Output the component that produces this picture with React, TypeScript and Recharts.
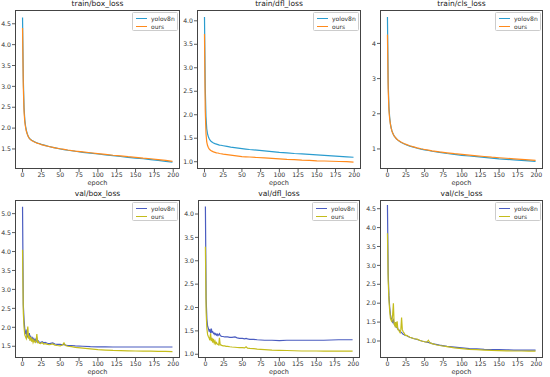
import { LineChart, Line, XAxis, YAxis } from 'recharts'

// epochs sampled for the training curves (smooth)
const trainEpochs = [0, 1, 2, 3, 4, 5, 6, 7, 8, 9, 10, 12, 14, 16, 18, 20, 22, 25, 30, 35, 40, 45, 50, 55, 60, 70, 80, 90, 100, 110, 120, 130, 140, 150, 160, 170, 180, 190, 199]

// epochs sampled for the validation curves (noisy early on)
const valEpochs = [0, 1, 2, 3, 4, 5, 6, 7, 8, 9, 10, 11, 12, 13, 14, 15, 16, 17, 18, 19, 20, 21, 22, 24, 26, 28, 30, 33, 36, 40, 43, 46, 50, 53, 55, 57, 60, 65, 70, 80, 90, 100, 110, 120, 130, 140, 150, 160, 170, 180, 190, 199]

const xTicks = [0, 25, 50, 75, 100, 125, 150, 175, 200]

const trainBoxYolo = [4.65, 3.2, 2.5, 2.2, 2.05, 1.95, 1.88, 1.83, 1.79, 1.76, 1.74, 1.71, 1.69, 1.67, 1.655, 1.64, 1.63, 1.61, 1.585, 1.56, 1.54, 1.52, 1.5, 1.485, 1.47, 1.445, 1.42, 1.4, 1.38, 1.36, 1.34, 1.32, 1.3, 1.28, 1.265, 1.245, 1.225, 1.205, 1.185]
const trainBoxOurs = [4.4, 3.0, 2.4, 2.15, 2.02, 1.93, 1.87, 1.82, 1.78, 1.755, 1.735, 1.705, 1.685, 1.665, 1.65, 1.635, 1.625, 1.605, 1.58, 1.56, 1.54, 1.52, 1.505, 1.49, 1.475, 1.45, 1.43, 1.41, 1.39, 1.37, 1.35, 1.335, 1.315, 1.3, 1.28, 1.265, 1.245, 1.225, 1.205]

const trainDflYolo = [4.08, 2.6, 1.95, 1.7, 1.6, 1.54, 1.5, 1.47, 1.45, 1.43, 1.42, 1.4, 1.385, 1.375, 1.365, 1.355, 1.35, 1.34, 1.325, 1.31, 1.3, 1.29, 1.28, 1.27, 1.26, 1.245, 1.23, 1.215, 1.2, 1.19, 1.175, 1.165, 1.155, 1.145, 1.135, 1.125, 1.115, 1.105, 1.095]
const trainDflOurs = [3.72, 2.1, 1.6, 1.42, 1.35, 1.31, 1.28, 1.26, 1.245, 1.235, 1.225, 1.21, 1.2, 1.19, 1.185, 1.175, 1.17, 1.16, 1.15, 1.14, 1.13, 1.12, 1.11, 1.105, 1.1, 1.09, 1.08, 1.07, 1.06, 1.05, 1.045, 1.035, 1.03, 1.02, 1.015, 1.01, 1.005, 1.0, 0.99]

const trainClsYolo = [4.75, 2.9, 2.2, 1.9, 1.72, 1.6, 1.52, 1.46, 1.41, 1.37, 1.34, 1.29, 1.25, 1.22, 1.19, 1.17, 1.15, 1.12, 1.08, 1.05, 1.02, 0.995, 0.975, 0.955, 0.935, 0.9, 0.87, 0.845, 0.82, 0.8, 0.78, 0.76, 0.74, 0.72, 0.705, 0.69, 0.675, 0.66, 0.645]
const trainClsOurs = [4.25, 2.7, 2.1, 1.85, 1.7, 1.59, 1.51, 1.45, 1.41, 1.37, 1.34, 1.29, 1.255, 1.225, 1.2, 1.175, 1.155, 1.13, 1.09, 1.06, 1.03, 1.005, 0.985, 0.965, 0.945, 0.915, 0.89, 0.865, 0.845, 0.825, 0.805, 0.785, 0.765, 0.75, 0.735, 0.72, 0.705, 0.69, 0.675]

const valBoxYolo = [5.18, 2.6, 2.2, 1.95, 1.85, 1.9, 1.75, 1.8, 1.72, 1.85, 1.7, 1.75, 1.68, 1.72, 1.66, 1.7, 1.64, 1.68, 1.63, 1.7, 1.62, 1.64, 1.61, 1.6, 1.62, 1.59, 1.6, 1.58, 1.57, 1.59, 1.56, 1.55, 1.55, 1.54, 1.55, 1.53, 1.52, 1.52, 1.51, 1.5, 1.49, 1.485, 1.485, 1.48, 1.48, 1.48, 1.48, 1.48, 1.48, 1.48, 1.48, 1.48]
const valBoxOurs = [4.05, 2.4, 2.0, 1.8, 1.75, 1.7, 1.8, 2.02, 1.7, 1.78, 1.65, 1.75, 1.62, 1.7, 1.6, 1.66, 1.62, 1.6, 1.65, 1.82, 1.6, 1.62, 1.58, 1.57, 1.6, 1.56, 1.57, 1.55, 1.54, 1.56, 1.53, 1.52, 1.51, 1.53, 1.59, 1.52, 1.5, 1.49, 1.47, 1.45, 1.43, 1.41, 1.4, 1.39, 1.385, 1.38, 1.375, 1.37, 1.37, 1.365, 1.365, 1.36]

const valDflYolo = [4.16, 2.2, 1.75, 1.6, 1.55, 1.5, 1.52, 1.45, 1.55, 1.47, 1.48, 1.44, 1.45, 1.42, 1.44, 1.41, 1.43, 1.4, 1.42, 1.44, 1.4, 1.39, 1.38, 1.38, 1.37, 1.37, 1.37, 1.36, 1.36, 1.37, 1.35, 1.34, 1.34, 1.33, 1.34, 1.33, 1.32, 1.32, 1.31, 1.3, 1.3, 1.29, 1.3, 1.3, 1.3, 1.3, 1.3, 1.3, 1.305, 1.31, 1.31, 1.31]
const valDflOurs = [3.3, 1.9, 1.55, 1.42, 1.38, 1.35, 1.3, 1.45, 1.28, 1.35, 1.25, 1.33, 1.24, 1.28, 1.22, 1.25, 1.22, 1.21, 1.2, 1.35, 1.2, 1.2, 1.19, 1.18, 1.18, 1.17, 1.17, 1.16, 1.155, 1.15, 1.145, 1.14, 1.14, 1.135, 1.16, 1.13, 1.125, 1.12, 1.11, 1.1, 1.09, 1.085, 1.08, 1.075, 1.07, 1.07, 1.07, 1.065, 1.065, 1.065, 1.065, 1.065]

const valClsYolo = [4.6, 2.8, 2.2, 1.9, 1.7, 1.6, 1.55, 1.5, 1.55, 1.45, 1.42, 1.4, 1.36, 1.38, 1.32, 1.3, 1.28, 1.25, 1.24, 1.22, 1.2, 1.18, 1.17, 1.15, 1.14, 1.12, 1.1, 1.08, 1.06, 1.04, 1.02, 1.0, 0.98, 0.97, 0.96, 0.95, 0.93, 0.91, 0.89, 0.86, 0.84, 0.82, 0.8, 0.79, 0.78, 0.775, 0.77, 0.765, 0.76, 0.76, 0.76, 0.76]
const valClsOurs = [3.85, 2.6, 2.1, 1.8, 1.6, 1.55, 1.5, 1.7, 2.0, 1.45, 1.4, 1.5, 1.35, 1.52, 1.3, 1.3, 1.25, 1.22, 1.3, 1.62, 1.3, 1.25, 1.22, 1.15, 1.15, 1.12, 1.1, 1.08, 1.06, 1.05, 1.02, 1.0, 0.98, 0.97, 1.02, 0.95, 0.93, 0.9, 0.88, 0.85, 0.82, 0.8, 0.78, 0.77, 0.76, 0.75, 0.745, 0.74, 0.735, 0.735, 0.73, 0.73]

const FONT = '"DejaVu Sans", sans-serif'
const YW = 19
const XH = 13

function rows(epochs: number[], a: number[], b: number[]) {
  return epochs.map((e, i) => ({ epoch: e, yolov8n: a[i], ours: b[i] }))
}

type Box = { x: number; y: number; w: number; h: number }

function Panel(props: {
  title: string
  box: Box
  data: any[]
  yDomain: [number, number]
  yTicks: number[]
  yFmt: (v: number) => string
  c1: string
  c2: string
}) {
  const { title, box, data, yDomain, yTicks, yFmt, c1, c2 } = props
  return (
    <>
      <div style={{ position: 'absolute', left: box.x, top: box.y - 11, width: box.w, textAlign: 'center', fontSize: 7.5, lineHeight: '10px', fontFamily: FONT, color: '#222' }}>
        {title}
      </div>
      <div style={{ position: 'absolute', left: box.x - YW, top: box.y }}>
        <LineChart width={YW + box.w} height={box.h + XH} data={data} margin={{ top: 0, right: 0, left: 0, bottom: 0 }}>
          <XAxis
            dataKey="epoch"
            type="number"
            domain={[-10, 209]}
            ticks={xTicks}
            height={XH}
            tickSize={3}
            tickMargin={1}
            axisLine={false}
            tickLine={{ stroke: '#333', strokeWidth: 0.8 }}
            tick={{ fontSize: 6.2, fill: '#333', fontFamily: FONT }}
            interval={0}
          />
          <YAxis
            type="number"
            domain={yDomain}
            ticks={yTicks}
            width={YW}
            tickSize={3}
            tickMargin={1}
            axisLine={false}
            allowDataOverflow
            tickFormatter={yFmt}
            tickLine={{ stroke: '#333', strokeWidth: 0.8 }}
            tick={{ fontSize: 6.2, fill: '#333', fontFamily: FONT }}
            interval={0}
          />
          <Line type="linear" dataKey="yolov8n" stroke={c1} strokeWidth={1.2} dot={false} isAnimationActive={false} />
          <Line type="linear" dataKey="ours" stroke={c2} strokeWidth={1.2} dot={false} isAnimationActive={false} />
        </LineChart>
      </div>
      <div style={{ position: 'absolute', left: box.x, top: box.y + box.h + 10, width: box.w, textAlign: 'center', fontSize: 6.5, lineHeight: '8px', fontFamily: FONT, color: '#333' }}>
        epoch
      </div>
      <div style={{ position: 'absolute', left: box.x, top: box.y, width: box.w, height: box.h, border: '0.8px solid #444', boxSizing: 'border-box', pointerEvents: 'none' }} />
      <div style={{ position: 'absolute', left: box.x + box.w - 48, top: box.y + 2, width: 46, height: 19, border: '0.6px solid #ccc', borderRadius: 1.5, background: 'rgba(255,255,255,0.8)', boxSizing: 'border-box', fontFamily: FONT, fontSize: 6, color: '#333' }}>
        {[['yolov8n', c1], ['ours', c2]].map(([name, col], i) => (
          <div key={name} style={{ position: 'absolute', left: 3, top: 2 + i * 8, height: 6, display: 'flex', alignItems: 'center' }}>
            <div style={{ width: 11, height: 1, background: col, marginRight: 4 }} />
            <span>{name}</span>
          </div>
        ))}
      </div>
    </>
  )
}

const f1 = (v: number) => v.toFixed(1)
const f0 = (v: number) => String(v)

export default function App() {
  const topA = '#2a9ccf'
  const topB = '#ff8a1c'
  const botA = '#4a5cc0'
  const botB = '#c4bc1c'
  return (
    <div style={{ position: 'absolute', left: 0, top: 0, width: 550, height: 377, background: '#fff', overflow: 'hidden' }}>
      <Panel title="train/box_loss" box={{ x: 15, y: 10, w: 165, h: 159 }} data={rows(trainEpochs, trainBoxYolo, trainBoxOurs)} yDomain={[1.02, 4.83]} yTicks={[1.5, 2, 2.5, 3, 3.5, 4, 4.5]} yFmt={f1} c1={topA} c2={topB} />
      <Panel title="train/dfl_loss" box={{ x: 197, y: 10, w: 164, h: 159 }} data={rows(trainEpochs, trainDflYolo, trainDflOurs)} yDomain={[0.845, 4.23]} yTicks={[1, 1.5, 2, 2.5, 3, 3.5, 4]} yFmt={f1} c1={topA} c2={topB} />
      <Panel title="train/cls_loss" box={{ x: 380, y: 10, w: 163, h: 159 }} data={rows(trainEpochs, trainClsYolo, trainClsOurs)} yDomain={[0.43, 4.95]} yTicks={[1, 2, 3, 4]} yFmt={f0} c1={topA} c2={topB} />
      <Panel title="val/box_loss" box={{ x: 15, y: 200, w: 165, h: 158 }} data={rows(valEpochs, valBoxYolo, valBoxOurs)} yDomain={[1.19, 5.36]} yTicks={[1.5, 2, 2.5, 3, 3.5, 4, 4.5, 5]} yFmt={f1} c1={botA} c2={botB} />
      <Panel title="val/dfl_loss" box={{ x: 198, y: 200, w: 162, h: 158 }} data={rows(valEpochs, valDflYolo, valDflOurs)} yDomain={[0.92, 4.3]} yTicks={[1, 1.5, 2, 2.5, 3, 3.5, 4]} yFmt={f1} c1={botA} c2={botB} />
      <Panel title="val/cls_loss" box={{ x: 380, y: 200, w: 163, h: 158 }} data={rows(valEpochs, valClsYolo, valClsOurs)} yDomain={[0.55, 4.73]} yTicks={[1, 1.5, 2, 2.5, 3, 3.5, 4, 4.5]} yFmt={f1} c1={botA} c2={botB} />
    </div>
  )
}
